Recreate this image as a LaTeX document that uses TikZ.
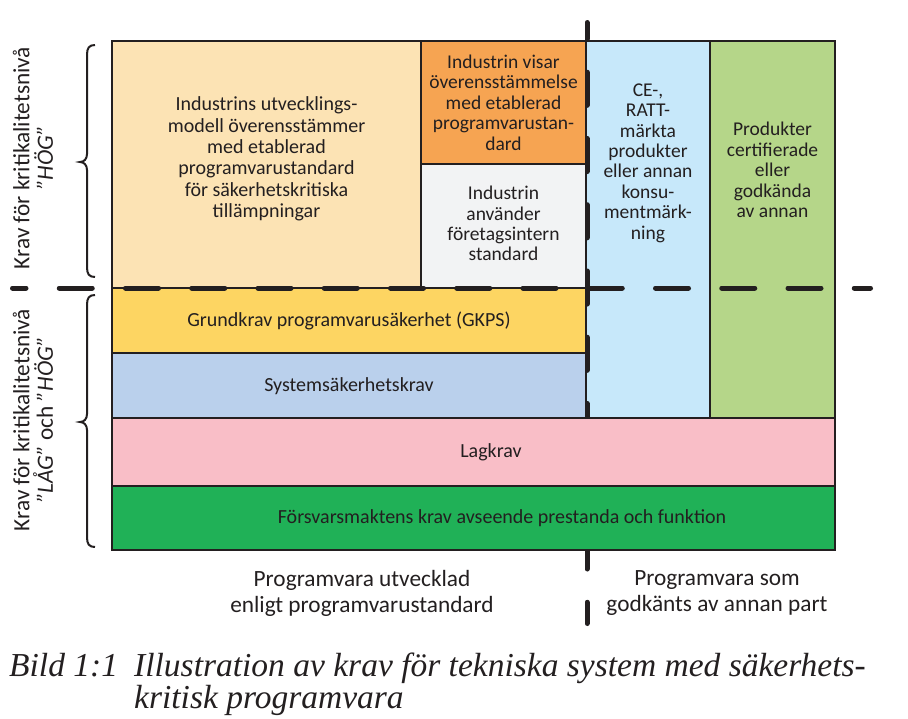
\documentclass[tikz,border=0pt]{standalone}
\usepackage{fontspec}
\setmainfont{Carlito}
\newfontfamily\capfont{Liberation Serif}
\definecolor{peach}{RGB}{252,227,180}
\definecolor{orangebox}{RGB}{246,164,82}
\definecolor{greybox}{RGB}{242,243,244}
\definecolor{lightbluebox}{RGB}{199,232,250}
\definecolor{lightgreenbox}{RGB}{181,214,137}
\definecolor{yellowbox}{RGB}{253,213,98}
\definecolor{sysblue}{RGB}{186,208,236}
\definecolor{pinkbox}{RGB}{249,190,199}
\definecolor{greenbox}{RGB}{32,177,87}
\definecolor{linec}{RGB}{35,31,32}
\tikzset{
  boxline/.style={draw=linec, line width=1.5pt},
  boxtext/.style={text=linec, align=center, inner sep=0pt, font=\fontsize{20}{21.4}\selectfont},
  smalltext/.style={text=linec, align=center, inner sep=0pt, font=\fontsize{19.5}{20.4}\selectfont},
  bandtext/.style={text=linec, inner sep=0pt, font=\fontsize{20}{22}\selectfont},
  labeltext/.style={text=linec, align=center, inner sep=0pt, font=\fontsize{23.3}{26}\selectfont},
  sidetext/.style={text=linec, align=center, inner sep=0pt, rotate=90, font=\fontsize{23.3}{23.5}\selectfont},
  captext/.style={text=linec, anchor=base west, inner sep=0pt, font=\capfont\itshape\fontsize{33.5}{30}\selectfont},
  bigdash/.style={draw=linec, line width=5pt, line cap=round, dash pattern=on 33pt off 33.25pt},
  bracestyle/.style={draw=linec, line width=2pt}
}
\begin{document}
\begin{tikzpicture}[x=1pt,y=-1pt]
\useasboundingbox (0,0) rectangle (908,718);
% upper boxes
\path[fill=peach, boxline] (112,41) rectangle (421,288);
\path[fill=orangebox, boxline] (421,41) rectangle (586,164);
\path[fill=greybox, boxline] (421,164) rectangle (586,288);
\path[fill=lightbluebox, boxline] (586,41) rectangle (710,418);
\path[fill=lightgreenbox, boxline] (710,41) rectangle (835,418);
\path[fill=yellowbox, boxline] (112,288) rectangle (586,353);
\path[fill=sysblue, boxline] (112,353) rectangle (586,418);
% vertical dashed divider
\coordinate (vtop) at (587,22.5);
\coordinate (vbot) at (587,623.5);
\draw[bigdash, dash phase=16.5pt] (vtop) -- (vbot);
% lower bands (drawn over the divider)
\path[fill=pinkbox, boxline] (112,418) rectangle (835,486);
\path[fill=greenbox, boxline] (112,486) rectangle (835,550);
% outer frame
\draw[draw=linec, line width=2.5pt] (112,41) rectangle (835,550);
% horizontal dashed divider
\coordinate (hleft) at (12.5,288);
\coordinate (hright) at (870.5,288);
\draw[bigdash, dash phase=19.5pt] (hleft) -- (hright);
% texts in boxes
\node[boxtext] (tl) at (266.5,159) {Industrins utvecklings-\\modell överensstämmer\\med etablerad\\programvarustandard\\för säkerhetskritiska\\tillämpningar};
\node[smalltext] (orange) at (503.5,102.5) {Industrin visar\\överensstämmelse\\med etablerad\\programvarustan-\\dard};
\node[smalltext] (grey) at (503.5,223.5) {Industrin\\använder\\företagsintern\\standard};
\node[smalltext] (ce) at (648,163) {CE-,\\RATT-\\märkta\\produkter\\eller annan\\konsu-\\mentmärk-\\ning};
\node[smalltext] (cert) at (772.5,170) {Produkter\\certifierade\\eller\\godkända\\av annan};
\node[bandtext] (gkps) at (349,321) {Grundkrav programvarusäkerhet (GKPS)};
\node[bandtext] (sys) at (349,386) {Systemsäkerhetskrav};
\node[bandtext] (lag) at (491,452) {Lagkrav};
\node[bandtext] (fm) at (502,518) {Försvarsmaktens krav avseende prestanda och funktion};
% bottom labels
\node[labeltext] (leftlab) at (362,593) {Programvara utvecklad\\enligt programvarustandard};
\node[labeltext] (rightlab) at (717,593) {Programvara som\\godkänts av annan part};
% side labels
\node[sidetext] (hog) at (33,158) {Krav för kritikalitetsnivå\\\textit{"HÖG"}};
\node[sidetext] (laghog) at (33,420) {Krav för kritikalitetsnivå\\\textit{"LÅG"} och \textit{"HÖG"}};
% braces
\draw[bracestyle] (95,45) .. controls (89,45) and (87,48) .. (87,55) -- (87,154) .. controls (87,159) and (84,162) .. (80,162) .. controls (84,162) and (87,165) .. (87,170) -- (87,267) .. controls (87,274) and (89,277) .. (95,277);
\draw[bracestyle] (95,295) .. controls (89,295) and (87,298) .. (87,305) -- (87,414) .. controls (87,419) and (84,422) .. (80,422) .. controls (84,422) and (87,425) .. (87,430) -- (87,537) .. controls (87,544) and (89,547) .. (95,547);
% caption
\node[captext] (bild) at (9,676) {Bild 1:1};
\node[captext] (cap1) at (134,676) {Illustration av krav för tekniska system med säkerhets-};
\node[captext] (cap2) at (134,708) {kritisk programvara};
\end{tikzpicture}
\end{document}
